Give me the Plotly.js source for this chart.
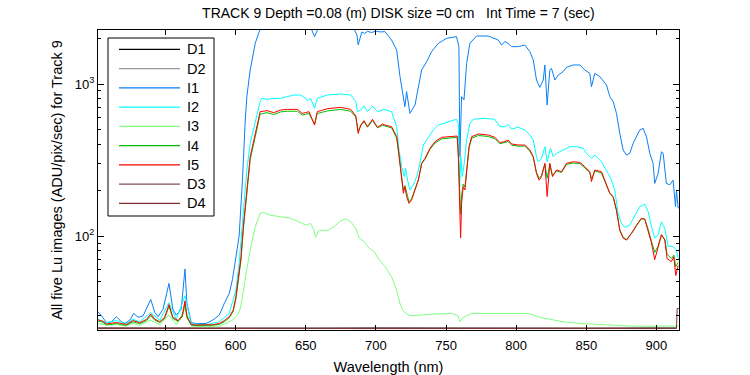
<!DOCTYPE html>
<html><head><meta charset="utf-8">
<script src="https://cdn.plot.ly/plotly-3.0.1.min.js"></script>
<style>html,body{margin:0;padding:0;background:#fff;}#chart{width:750px;height:375px;}</style>
</head><body><div id="chart"></div>
<script>
// ---------- data ----------
const wlD = [502, 550, 600, 650, 700, 750, 800, 850, 900, 914.3];
const D1 = [24.8, 24.7, 24.8, 24.7, 24.8, 24.7, 24.8, 24.7, 24.8, 24.7];
const D2 = [24.7, 24.8, 24.7, 24.8, 24.7, 24.8, 24.7, 24.8, 24.7, 24.8];
const D3 = [24.9, 24.8, 24.9, 24.8, 24.9, 24.8, 24.9, 24.8, 24.9, 24.8];
const wlD4 = [502, 550, 600, 650, 700, 750, 800, 850, 900, 914.3, 914.8, 916];
const D4 = [24.6, 24.7, 24.6, 24.7, 24.6, 24.7, 24.6, 24.7, 24.6, 24.8, 33.4, 33.4];

const wlI1 = [502.0,504.5,508.0,511.5,515.0,518.6,521.0,524.6,527.4,530.5,534.0,539.5,542.3,544.7,548.2,552.5,555.3,557.7,561.2,563.9,565.3,568.4,571.9,579.0,583.7,588.4,591.9,595.5,597.8,600.2,602.5,604.9,605.6,606.8,608.0,610.4,614.0,617.5,622,630,640,650,654,656.3,658.2,660,670,680,684,686.5,687.4,688.5,690,692,694,697,700,703,706.5,711.2,714.8,717.2,719.6,720.7,721.9,723.1,724.3,727.9,730.2,732.6,736.2,739.7,744.5,750.4,757.5,759.2,759.9,760.6,761.1,762.8,764.7,767.0,771.8,780.1,787.2,789.6,792.0,794.3,796.7,801.5,806.2,809.8,812.2,814.5,816.9,819.3,820.5,822.1,824.0,825.2,827.6,830.0,833.5,835.9,840.7,845.4,849.0,852.5,853.7,856.1,859.7,864.4,866.8,869.2,871.5,873.9,876.3,878.7,881.0,883.4,885.8,888.1,890.5,892.9,895.3,897.6,898.8,901.2,903.6,904.8,907.1,909.5,911.9,913.6,914.3,915.5];
const I1 = [31.6,29.8,26.9,27.3,29.5,27.3,26.6,28.0,31.0,29.2,29.8,38.3,31.6,29.5,32.9,48.8,32.9,30.2,32.9,60.7,36,26.9,26.6,26.6,28.0,30.2,36,42,52,73,100,233,333,560,826,1236,1852,2300,2600,2750,2800,2400,2300,2050,2250,2400,2700,2650,2350,2100,1806,2000,2200,2150,2220,2180,2230,2200,2210,1947,1674,1117,826,709,891,760,641,728,960,1236,1402,1632,1852,1997,2048,1761,333,600,826,785,1367,1852,2069,2069,1947,1806,1900,1852,1761,1761,1806,1632,1438,1062,951,1062,1334,728,1236,1268,1062,1146,1206,1288,1334,1334,1236,1175,960,1175,1117,985,826,765,641,473,368,341,350,407,450,498,511,450,350,301,222,258,359,350,222,217,233,156,201,152];

const wlI2 = [502.0,508.0,515.0,522.1,526.9,531.6,539.5,545.9,552.5,557.7,563.9,568.4,579.0,588.4,595.5,600.2,602.5,605.6,608.0,610.4,614.0,617.5,618.7,622.4,627.2,632.0,636.8,641.6,646.3,650.0,651.1,653.5,656.3,658.2,665.4,674.9,682.1,685.7,686.9,689.2,691.6,694.0,697.6,701.1,705.8,711.2,714.8,716.5,718.4,720.3,721.2,722.6,724.3,726.7,729.1,731.4,733.8,737.4,740.9,744.5,748.0,754.0,757.5,758.7,759.7,760.6,761.6,763.0,764.7,767.0,769.4,777.7,784.8,788.4,792.0,794.3,796.7,801.5,806.2,809.8,812.2,814.5,815.7,818.1,820.5,822.1,824.5,826.4,828.8,833.5,838.3,843.0,847.8,850.2,853.7,856.1,860.8,865.6,868.0,870.3,872.7,875.1,877.5,881.0,884.6,888.1,891.7,894.1,896.5,898.8,901.2,903.6,906.0,908.3,911.9,914.3,915.5];
const I2 = [28.3,26.9,27.8,26.6,28.3,27.3,31.3,28.0,36.4,28.3,40.5,26.4,26.1,27.3,31.0,44,66,156,272,407,551,765,805,793,805,805,826,847,847,805,777,805,691,805,847,860,847,765,658,674,717,658,717,658,681,658,524,368,286,246,279,233,201,217,246,301,397,450,498,537,551,574,586,551,211,333,246,301,428,551,586,595,586,524,524,543,506,519,498,462,428,333,308,324,387,308,378,333,350,368,387,387,378,350,324,341,308,258,233,201,140,121,114,118,137,156,162,145,115,97,102,124,112,86,85,81,71];

const wlI3 = [502.0,508.0,515.0,522.1,526.9,531.6,539.5,545.9,552.5,557.7,563.9,568.4,579.0,588.4,593.1,597.8,601.3,603.2,604.9,606.7,607.5,610.4,614.0,617.5,620.0,624.8,632.0,639.2,645.1,650.0,653.5,655.9,657.0,659.4,665.4,670.1,674.9,678.5,682.1,685.7,688.1,691.6,695.2,698.8,702.3,706.5,711.2,714.8,717.2,719.6,724.3,730.2,742.1,754.0,758.7,759.9,762.3,768.3,777.7,789.6,801.5,808.6,816.9,824.0,833.5,845.4,857.3,869.2,881.0,892.9,904.8,914.3,916];
const I3 = [26.6,26.0,26.1,25.6,26.6,25.8,28.0,26.1,30.2,26.1,33.4,25.6,25.3,25.6,26.6,28.0,30.2,33,40,49,57,81,115,141,143,137,134,131,124,118,121,109,98,109,109,115,126,130,124,112,97,92,83,79,70,63,54,44,36,32,29.9,30.2,30.7,31.0,29.8,27.3,29.2,31.0,31.0,31.0,31.3,31.0,29.2,28.3,27.3,26.6,26.2,25.8,25.6,25.5,25.5,25.6,25.6];

const wlI45 = [502.0,504.5,508.0,511.5,515.0,518.6,522.1,526.9,531.6,536.5,539.5,542.3,545.9,549.4,552.5,555.3,559.0,562.0,563.9,565.3,568.4,571.9,579.0,583.7,588.4,591.9,595.5,598.3,600.2,602.2,603.8,605.6,608.0,610.4,614.0,617.5,622.4,627.2,632.0,636.8,644.0,647.5,650.0,652.3,656.3,658.2,665.4,674.9,682.1,685.7,687.4,689.2,691.6,694.0,697.6,701.1,704.7,706.5,711.2,714.9,716.5,717.9,719.6,720.7,721.9,723.6,725.5,727.9,730.3,732.6,735.0,738.6,742.2,746.9,754.0,758.0,758.8,759.7,760.4,761.1,762.3,763.5,764.6,766.4,768.3,773.0,780.2,784.9,788.4,792.0,794.4,796.8,801.5,806.2,809.8,812.2,814.5,816.4,818.1,820.5,822.1,824.0,825.9,828.8,832.4,835.9,840.7,845.4,849.0,852.5,853.7,856.1,860.8,864.9,866.8,869.2,871.5,873.9,876.3,878.7,882.2,885.8,889.3,891.7,894.1,896.5,898.8,901.2,903.6,906.0,907.6,910.7,912.4,913.8,915.5];
const I5 = [28.0,27.8,26.4,26.6,27.0,26.6,26.2,27.8,26.9,28.3,30.7,28.5,27.3,29.2,35.4,29.2,27.8,30.0,37.5,29.5,26.2,26.0,25.9,26.1,26.6,27.8,29.5,32.6,39.9,54,72,118,210,333,470,658,668,648,674,681,681,641,648,658,537,658,688,702,681,616,473,537,574,524,586,519,546,537,524,450,341,258,191,211,182,164,173,201,233,301,324,378,418,446,455,455,333,141,97,164,211,201,272,387,450,469,462,446,412,418,428,403,397,397,368,333,258,233,246,301,182,301,246,272,265,301,308,305,286,265,228,272,265,211,191,182,148,109,97,94,104,118,131,129,109,90,70,83,102,94,71,68,73,55,64];
const I4 = [27.5,27.3,26.0,26.2,26.6,26.2,25.9,27.3,26.5,27.8,30.0,28.0,27.0,28.7,34.5,28.7,27.4,29.5,36.0,29.0,26.0,25.8,25.7,25.9,26.3,27.3,29.0,32.0,38.5,53,69,113,200,318,450,635,648,630,655,662,662,625,632,640,545,640,665,680,662,605,490,530,565,520,575,515,535,528,515,440,340,262,200,215,190,168,176,203,235,298,320,372,410,436,445,446,345,170,140,185,220,210,275,380,440,458,452,437,405,410,418,396,390,390,362,330,262,240,250,298,240,295,250,268,262,296,302,300,282,262,238,268,260,210,190,180,148,110,98,95,104,117,130,129,111,92,78,86,102,95,76,71,75,63,67];

const xTicks = [550, 600, 650, 700, 750, 800, 850, 900];
const yTicks = [100, 1000];
const yTickText = ['10<sup>2</sup>', '10<sup>3</sup>'];
const yMinor = [30,40,50,60,70,80,90,200,300,400,500,600,700,800,900,2000];

const seriesNames = ['D1','D2','I1','I2','I3','I4','I5','D3','D4'];
const seriesColors = ['#000000','#999999','#0a80f5','#00ffff','#80ff80','#00c000','#ff0000','#805050','#803030'];
const seriesX = [wlD, wlD, wlI1, wlI2, wlI3, wlI45, wlI45, wlD, wlD4];
const seriesY = [D1, D2, I1, I2, I3, I4, I5, D3, D4];

// ---------- chart ----------
const FAM = 'Liberation Sans, Arial, sans-serif';
const data = seriesNames.map((n, i) => ({
  type: 'scatter', mode: 'lines', name: n, x: seriesX[i], y: seriesY[i],
  line: {color: seriesColors[i], width: 1}, hoverinfo: 'skip', showlegend: false
}));

// plot-area geometry (pixels) used to place the boxed legend
const M = {l: 98, r: 71, t: 30, b: 45};
const PW = 750 - M.l - M.r, PH = 375 - M.t - M.b;
const px = x => (x - M.l) / PW;
const py = y => 1 - (y - M.t) / PH;

const shapes = [{type: 'rect', xref: 'paper', yref: 'paper',
  x0: px(108), x1: px(214), y0: py(216), y1: py(38),
  line: {color: '#000', width: 1}, fillcolor: '#fff', layer: 'above'}];
const annotations = [];
seriesNames.forEach((n, i) => {
  const yy = 49.3 + i * 19.25;
  shapes.push({type: 'line', xref: 'paper', yref: 'paper', x0: px(119), x1: px(180), y0: py(yy), y1: py(yy),
               line: {color: seriesColors[i], width: 1.2}, layer: 'above'});
  annotations.push({xref: 'paper', yref: 'paper', x: px(185), y: py(yy), xanchor: 'left', yanchor: 'middle',
                    text: n, showarrow: false, font: {family: FAM, size: 14.5, color: '#000'}});
});

const layout = {
  width: 750, height: 375,
  margin: M,
  paper_bgcolor: '#fff', plot_bgcolor: '#fff',
  font: {family: FAM, size: 13, color: '#000'},
  showlegend: false,
  title: {text: 'TRACK 9 Depth =0.08 (m) DISK size =0 cm &nbsp; Int Time = 7 (sec)',
          font: {family: FAM, size: 14, color: '#000'},
          x: 0.517, xref: 'paper', xanchor: 'center', y: 0.966, yref: 'container', yanchor: 'middle'},
  xaxis: {
    range: [501.9, 916.1], tickvals: xTicks, ticks: 'inside', ticklen: 5, tickcolor: '#000',
    showline: true, linecolor: '#000', linewidth: 1, mirror: 'ticks', showgrid: false, zeroline: false,
    tickfont: {size: 13}, ticklabelstandoff: 3,
    title: {text: 'Wavelength (nm)', font: {size: 14.5}, standoff: 10}
  },
  yaxis: {
    type: 'log', range: [Math.log10(24.1), Math.log10(2266)],
    tickvals: yTicks, ticktext: yTickText, ticks: 'inside', ticklen: 6, tickcolor: '#000',
    minor: {tickvals: yMinor, ticks: 'inside', ticklen: 3, tickcolor: '#000', showgrid: false},
    showline: true, linecolor: '#000', linewidth: 1, mirror: 'ticks', showgrid: false, zeroline: false,
    tickfont: {size: 13},
    title: {text: 'All five Lu images (ADU/pix/sec) for Track 9', font: {size: 14.5}, standoff: 8}
  },
  shapes: shapes,
  annotations: annotations
};
Plotly.newPlot('chart', data, layout, {staticPlot: true, displayModeBar: false});
</script>
</body></html>
